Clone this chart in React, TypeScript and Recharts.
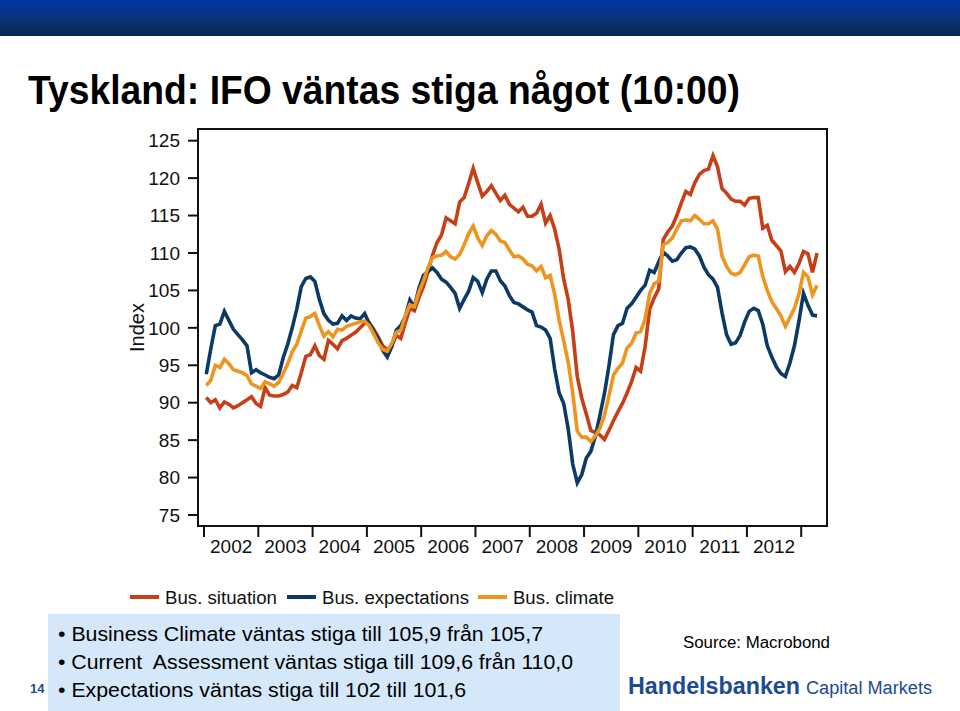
import React from 'react';
import { LineChart, Line, XAxis, YAxis, ReferenceArea } from 'recharts';

// Monthly IFO sub-indices, Feb 2002 .. May 2013 (2005 = 100)
const busSituation = [
  90.7, 90.0, 90.4, 89.3, 90.1, 89.8, 89.3, 89.6, 90.0, 90.4, 90.8, 89.9,
  89.5, 92.0, 91.0, 90.9, 90.9, 91.1, 91.4, 92.3, 92.0, 94.0, 96.2, 96.4,
  97.6, 96.3, 95.8, 98.3, 97.8, 97.2, 98.3, 98.6, 99.0, 99.4, 100.0, 100.6,
  100.7, 99.8, 98.8, 97.6, 97.1, 97.6, 99.0, 98.6, 100.7, 102.6, 102.3, 104.0,
  105.5, 107.5, 109.7, 111.4, 112.4, 114.7, 114.3, 113.9, 116.8, 117.4, 119.3, 121.3,
  119.4, 117.6, 118.2, 119.0, 118.0, 117.0, 117.7, 116.5, 116.0, 115.5, 116.1, 114.9,
  114.9, 115.3, 116.5, 114.0, 115.0, 113.2, 110.5, 106.5, 103.8, 99.5, 93.5, 90.6,
  88.5, 86.3, 86.0, 85.7, 85.1, 86.3, 87.6, 88.8, 89.9, 91.3, 92.8, 94.7,
  94.2, 97.5, 102.5, 104.0, 105.2, 111.8, 112.8, 113.6, 115.0, 116.7, 118.2, 117.8,
  119.4, 120.5, 121.0, 121.2, 123.0, 121.5, 118.6, 118.0, 117.2, 116.9, 116.9, 116.4,
  117.3, 117.4, 117.4, 113.3, 113.7, 111.7, 111.0, 110.3, 107.5, 108.2, 107.4, 108.6,
  110.2, 109.9, 107.4, 110.0,
];

const busExpectations = [
  93.8, 97.2, 100.3, 100.5, 102.2, 101.0, 99.8, 99.1, 98.4, 97.6, 94.0, 94.4,
  94.0, 93.7, 93.4, 93.2, 93.7, 96.0, 97.8, 100.0, 102.5, 105.5, 106.6, 106.8,
  106.2, 103.8, 101.9, 101.0, 100.5, 100.6, 101.6, 101.0, 101.6, 101.3, 101.2, 101.9,
  100.6, 99.6, 98.5, 97.0, 96.1, 97.5, 99.7, 100.3, 101.5, 103.7, 102.8, 105.3,
  107.0, 107.5, 108.0, 107.4, 106.5, 106.1, 105.4, 104.6, 102.6, 103.8, 104.9, 106.7,
  106.2, 104.7, 106.5, 107.6, 107.6, 106.3, 105.6, 104.3, 103.4, 103.2, 102.8, 102.4,
  102.1, 100.3, 100.1, 99.7, 98.6, 94.5, 91.3, 89.9, 86.5, 81.8, 79.3, 80.4,
  82.6, 83.5, 85.5, 88.3, 91.2, 94.9, 99.1, 100.3, 100.6, 102.6, 103.2, 104.1,
  105.0, 105.7, 107.7, 107.4, 108.8, 110.1, 109.6, 108.9, 109.1, 110.0, 110.7, 110.8,
  110.5, 109.6, 108.1, 107.1, 106.5, 105.4, 102.0, 99.1, 97.8, 98.0, 99.0, 100.8,
  102.2, 102.6, 102.3, 100.5, 97.6, 96.1, 94.8, 93.9, 93.5, 95.3, 97.6, 100.9,
  104.6, 103.0, 101.7, 101.6,
];

const busClimate = [
  92.3, 93.0, 95.0, 94.7, 95.8, 95.2, 94.4, 94.2, 94.0, 93.6, 92.5, 92.2,
  91.9, 92.8, 92.5, 92.2, 92.7, 93.9, 95.2, 96.8, 97.8, 99.6, 101.3, 101.5,
  101.9, 100.3, 98.9, 99.5, 98.8, 99.8, 99.7, 100.2, 100.4, 100.6, 100.8, 100.9,
  100.3, 99.2, 98.0, 97.1, 96.9, 97.9, 99.4, 99.7, 101.6, 103.1, 102.8, 104.8,
  106.3, 108.0, 109.4, 109.6, 109.7, 110.2, 109.5, 109.2, 109.8, 111.1, 112.6, 113.6,
  112.0, 111.0, 112.3, 113.0, 112.5, 111.6, 111.4, 110.4, 109.5, 109.6, 109.2, 108.5,
  108.3, 107.6, 108.2, 106.7, 107.0, 104.5, 101.0, 98.3, 95.4, 91.3, 86.2, 85.4,
  85.4, 84.8, 85.6, 86.6, 88.3, 90.9, 93.7, 94.6, 95.3, 97.3, 97.9, 99.3,
  99.5, 101.2, 104.6, 105.9, 106.2, 111.1, 111.4, 112.0, 113.2, 114.3, 114.4, 114.3,
  115.0, 114.5, 113.9, 113.9, 114.3, 113.2, 109.6, 108.2, 107.3, 107.1, 107.4, 108.4,
  109.5, 109.7, 109.6, 106.9, 105.0, 103.5, 102.6, 101.6, 100.2, 101.4, 102.6, 104.5,
  107.4, 106.8, 104.4, 105.7,
];

const yearLabels = ['2002', '2003', '2004', '2005', '2006', '2007', '2008', '2009', '2010', '2011', '2012'];
const yearBoundaryTicks = [0.5, 12.5, 24.5, 36.5, 48.5, 60.5, 72.5, 84.5, 96.5, 108.5, 120.5, 132.5];
const yearLabelTicks = [6.5, 18.5, 30.5, 42.5, 54.5, 66.5, 78.5, 90.5, 102.5, 114.5, 126.5];
const yTicks = [75, 80, 85, 90, 95, 100, 105, 110, 115, 120, 125];

const bullets = [
  '\u2022 Business Climate väntas stiga till 105,9 från 105,7',
  '\u2022 Current  Assessment väntas stiga till 109,6 från 110,0',
  '\u2022 Expectations väntas stiga till 102 till 101,6',
];

const C_SIT = '#C63F17';
const C_EXP = '#0C3A66';
const C_CLI = '#EE9520';
const X_MIN = -0.83;
const X_MAX = 138.2;
const Y_MIN = 73.53;
const Y_MAX = 126.56;
const FONT = '"Liberation Sans", Arial, Helvetica, sans-serif';

const IndexLabel = (props: any) => {
  const vb = props.viewBox || { x: 138, y: 129, width: 60, height: 397 };
  const cx = vb.x - 1;
  const cy = vb.y + vb.height / 2;
  return (
    <text x={cx} y={cy} transform={`rotate(-90 ${cx} ${cy})`} textAnchor="middle" dominantBaseline="central"
      fontSize={20} fill="#111" fontFamily={FONT}>Index</text>
  );
};

export default function App() {
  const data = busSituation.map((v, i) => ({
    t: i + 1,
    situation: v,
    expectations: busExpectations[i],
    climate: busClimate[i],
  }));

  const legendItems = [
    { name: 'Bus. situation', color: C_SIT, x: 130, w: 112 },
    { name: 'Bus. expectations', color: C_EXP, x: 287, w: 147 },
    { name: 'Bus. climate', color: C_CLI, x: 478, w: 101 },
  ];

  return (
    <div style={{ position: 'absolute', left: 0, top: 0, width: 960, height: 711, background: '#fff', overflow: 'hidden', fontFamily: FONT }}>
      <svg width={960} height={711} style={{ position: 'absolute', left: 0, top: 0 }} fontFamily={FONT}>
        <defs>
          <linearGradient id="topbar" x1="0" y1="0" x2="0" y2="1">
            <stop offset="0" stopColor="#0037A3" />
            <stop offset="0.55" stopColor="#0A3278" />
            <stop offset="1" stopColor="#082A4E" />
          </linearGradient>
        </defs>
        <rect x={0} y={0} width={960} height={36} fill="url(#topbar)" />
        <text x={28} y={104} fontSize={40} fontWeight="bold" fill="#000" textLength={712} lengthAdjust="spacingAndGlyphs">
          Tyskland: IFO väntas stiga något (10:00)
        </text>

        {legendItems.map((it) => (
          <g key={it.name}>
            <line x1={it.x} x2={it.x + 29} y1={597} y2={597} stroke={it.color} strokeWidth={4} />
            <text x={it.x + 35} y={603.5} fontSize={18} fill="#111" textLength={it.w} lengthAdjust="spacingAndGlyphs">{it.name}</text>
          </g>
        ))}

        <rect x={48} y={614} width={572} height={97} fill="#D5E8F9" />
        {bullets.map((b, i) => (
          <text key={i} x={58} y={641 + i * 28} fontSize={20} fill="#000" style={{ whiteSpace: 'pre' }}
            textLength={[485, 515, 408][i]} lengthAdjust="spacingAndGlyphs">{b}</text>
        ))}
        <text x={30} y={693} fontSize={13} fontWeight="bold" fill="#1F4E9C">14</text>
        <text x={683} y={648} fontSize={16} fill="#000" textLength={147} lengthAdjust="spacingAndGlyphs">Source: Macrobond</text>
        <text x={628} y={694} fontSize={23} fontWeight="bold" fill="#1D4A94" textLength={172} lengthAdjust="spacingAndGlyphs">Handelsbanken</text>
        <text x={806} y={694} fontSize={18} fill="#1D4A94" textLength={126} lengthAdjust="spacingAndGlyphs">Capital Markets</text>
      </svg>

      <div style={{ position: 'absolute', left: 0, top: 0 }}>
        <LineChart width={960} height={600} data={data} margin={{ top: 129, right: 133, bottom: 32, left: 138 }}>
          <XAxis xAxisId="xlabels" dataKey="t" type="number" domain={[X_MIN, X_MAX]} allowDataOverflow
            ticks={yearLabelTicks} interval={0}
            tickFormatter={(v: number) => yearLabels[Math.round((v - 6.5) / 12)] ?? ''}
            tickLine={false} axisLine={false} tickSize={0} tickMargin={2} height={30}
            tick={{ fill: '#111', fontSize: 19, fontFamily: FONT }} />
          <XAxis xAxisId="xaxis" dataKey="t" type="number" domain={[X_MIN, X_MAX]} allowDataOverflow
            ticks={yearBoundaryTicks} interval={0} tickFormatter={() => ''} tickSize={11} height={12}
            axisLine={false} tickLine={{ stroke: '#111', strokeWidth: 2 }} />
          <YAxis yAxisId="left" type="number" domain={[Y_MIN, Y_MAX]} allowDataOverflow ticks={yTicks} interval={0}
            width={60} tickSize={10} tickMargin={8} axisLine={false}
            tickLine={{ stroke: '#111', strokeWidth: 2 }}
            tick={{ fill: '#111', fontSize: 19, fontFamily: FONT }}
            label={<IndexLabel />} />
          <ReferenceArea xAxisId="xaxis" yAxisId="left" x1={X_MIN} x2={X_MAX} y1={Y_MIN} y2={Y_MAX}
            fill="none" fillOpacity={0} stroke="#111" strokeWidth={2} ifOverflow="visible" />
          <Line xAxisId="xaxis" yAxisId="left" type="linear" dataKey="situation" name="Bus. situation"
            stroke={C_SIT} strokeWidth={3.6} dot={false} activeDot={false} isAnimationActive={false} />
          <Line xAxisId="xaxis" yAxisId="left" type="linear" dataKey="expectations" name="Bus. expectations"
            stroke={C_EXP} strokeWidth={3.6} dot={false} activeDot={false} isAnimationActive={false} />
          <Line xAxisId="xaxis" yAxisId="left" type="linear" dataKey="climate" name="Bus. climate"
            stroke={C_CLI} strokeWidth={3.6} dot={false} activeDot={false} isAnimationActive={false} />
        </LineChart>
      </div>
    </div>
  );
}
